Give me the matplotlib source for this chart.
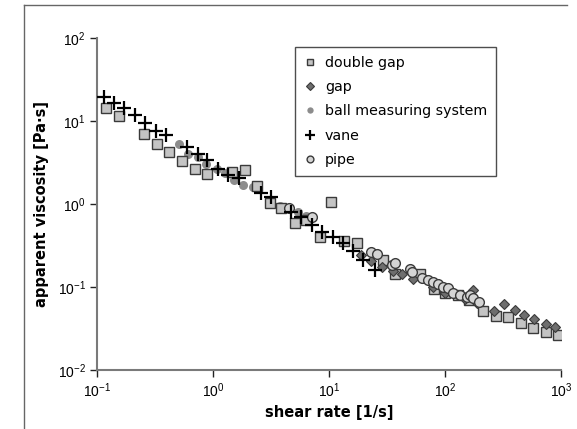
import matplotlib
matplotlib.use("Agg")
import matplotlib.pyplot as plt
from matplotlib.lines import Line2D

plt.rcParams['font.family'] = ['Liberation Sans', 'DejaVu Sans']
plt.rcParams['mathtext.fontset'] = 'custom'
plt.rcParams['mathtext.rm'] = 'Liberation Sans'
plt.rcParams['mathtext.it'] = 'Liberation Sans:italic'
plt.rcParams['mathtext.bf'] = 'Liberation Sans:bold'

# shear rate [1/s] / apparent viscosity [Pa s]
double_gap_x = [0.120, 0.156, 0.256, 0.331, 0.42, 0.541, 0.695, 0.89, 1.47, 1.88, 2.41, 3.10,
                3.9, 5.1, 6.4, 8.4, 10.5, 13.5, 17.5, 29.4, 37, 60.9, 80, 100, 130, 160,
                214, 275, 352, 452, 577, 743, 948]
double_gap_y = [14.2, 11.5, 7.0, 5.3, 4.27, 3.32, 2.62, 2.30, 2.43, 2.57, 1.65, 1.04,
                0.90, 0.585, 0.64, 0.40, 1.05, 0.36, 0.34, 0.211, 0.142, 0.142, 0.095, 0.085, 0.08, 0.07,
                0.0518, 0.045, 0.043, 0.0366, 0.0324, 0.0284, 0.0264]

gap_x = [19.1, 23.3, 28.5, 35.8, 42.4, 53.3, 79, 101, 130, 150, 175, 190,
         264, 323, 401, 483, 589, 738, 893]
gap_y = [0.243, 0.207, 0.176, 0.157, 0.142, 0.124, 0.099, 0.084, 0.08, 0.072, 0.092, 0.065,
         0.052, 0.062, 0.053, 0.046, 0.0415, 0.0358, 0.0333]

ball_x = [0.51, 0.61, 0.74, 0.87, 1.08, 1.27, 1.52, 1.82, 2.23, 3.78, 5.4, 6.4]
ball_y = [5.28, 3.97, 3.65, 3.03, 2.62, 2.34, 1.95, 1.69, 1.62, 0.955, 0.80, 0.72]

vane_x = [0.115, 0.140, 0.171, 0.211, 0.261, 0.323, 0.394, 0.60, 0.738, 0.893, 1.11, 1.36,
          1.69, 2.58, 3.14, 4.7, 5.8, 7.1, 8.8, 10.8, 13.3, 16.2, 19.8, 24.9]
vane_y = [19.6, 16.6, 14.2, 11.8, 9.4, 7.6, 6.7, 4.8, 4.0, 3.39, 2.62, 2.24,
          2.04, 1.37, 1.20, 0.80, 0.70, 0.56, 0.46, 0.40, 0.34, 0.27, 0.21, 0.16]

pipe_x = [4.55, 7.2, 23.3, 25.8, 34.7, 37, 50, 51.6, 64, 71.8, 79, 87.5, 96.6, 107,
          118, 135, 154, 164, 175, 198]
pipe_y = [0.89, 0.69, 0.266, 0.25, 0.184, 0.193, 0.163, 0.153, 0.127, 0.121, 0.116, 0.109,
          0.101, 0.096, 0.084, 0.080, 0.076, 0.080, 0.073, 0.0665]

fig = plt.figure(figsize=(5.77, 4.29), dpi=100)
ax = fig.add_axes([0.168, 0.1375, 0.804, 0.774])

edge = '#3a3a3a'
ax.plot(ball_x, ball_y, 'o', ms=6.5, mfc='#8c8c8c', mec='#8c8c8c', mew=0,
        label='ball measuring system', zorder=3)
ax.plot(double_gap_x, double_gap_y, 's', ms=7, mfc='#c4c4c4', mec=edge, mew=1,
        label='double gap', zorder=4)
ax.plot(gap_x, gap_y, 'D', ms=5.5, mfc='#6e6e6e', mec=edge, mew=0.8,
        label='gap', zorder=5)
ax.plot(pipe_x, pipe_y, 'o', ms=7, mfc='#d4d4d4', mec=edge, mew=1,
        label='pipe', zorder=6)
ax.plot(vane_x, vane_y, '+', ms=10, mec='black', mew=1.6,
        label='vane', zorder=7)

ax.set_xscale('log')
ax.set_yscale('log')
ax.set_xlim(0.1, 1000)
ax.set_ylim(0.01, 100)
ax.set_xticks([0.1, 1, 10, 100, 1000])
ax.set_yticks([0.01, 0.1, 1, 10, 100])
ax.minorticks_off()

for s in ['top', 'right']:
    ax.spines[s].set_visible(False)
for s in ['left', 'bottom']:
    ax.spines[s].set_color('#7a7a7a')
    ax.spines[s].set_linewidth(1.5)
ax.tick_params(direction='out', length=5, width=1, color='#222222',
               labelsize=10, pad=3)

ax.set_xlabel('shear rate [1/s]', family='DejaVu Sans', fontweight='bold', fontsize=10.5, labelpad=4)
ax.set_ylabel('apparent viscosity [Pa·s]', family='DejaVu Sans', fontweight='bold', fontsize=10.5, labelpad=6)

h, l = ax.get_legend_handles_labels()
order = ['double gap', 'gap', 'ball measuring system', 'vane', 'pipe']
hh = [h[l.index(o)] for o in order]
leg = fig.legend(hh, order, loc='upper left', bbox_to_anchor=(0.511, 0.890),
                 prop={'family': 'DejaVu Sans', 'size': 10.3}, frameon=True, fancybox=False,
                 markerscale=0.7, handlelength=0.9, handletextpad=0.6, labelspacing=0.72,
                 borderpad=0.6, borderaxespad=0)
leg.get_frame().set_edgecolor('#222222')
leg.get_frame().set_linewidth(1)

# outer frame of the figure
fig.add_artist(Line2D([0.042, 0.042], [0, 0.988], color='#666666', lw=1))
fig.add_artist(Line2D([0.042, 0.983], [0.988, 0.988], color='#666666', lw=1))

fig.savefig('out.png', dpi=100)
